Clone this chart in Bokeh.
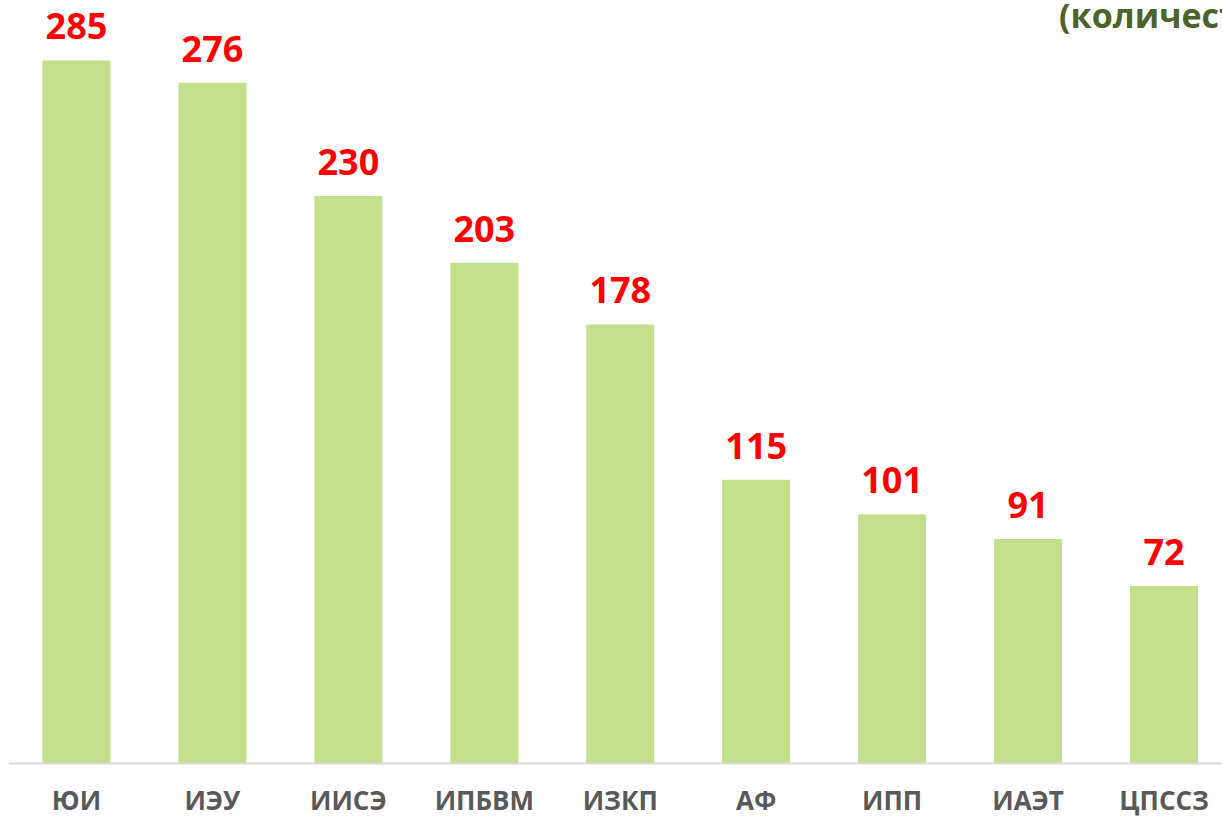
from bokeh.plotting import figure
from bokeh.models import ColumnDataSource, Range1d, FixedTicker, Label
from bokeh.core.properties import value
from bokeh.embed import file_html
from bokeh.resources import INLINE

categories = ["ЮИ", "ИЭУ", "ИИСЭ", "ИПБВМ", "ИЗКП", "АФ", "ИПП", "ИАЭТ", "ЦПССЗ"]
values = [285, 276, 230, 203, 178, 115, 101, 91, 72]
title_text = "(количество человек)"

idx = list(range(len(categories)))
src = ColumnDataSource(dict(x=idx, top=values, lab=[str(v) for v in values]))

p = figure(width=1222, height=819, output_backend="svg", toolbar_location=None,
           x_range=Range1d(-0.5, 8.43), y_range=Range1d(-22.7, 309.3),
           min_border_left=8, min_border_right=0, min_border_top=0, min_border_bottom=0)
p.outline_line_color = None
p.xgrid.grid_line_color = None
p.ygrid.grid_line_color = None
p.yaxis.visible = False

p.vbar(x="x", top="top", width=0.5, bottom=0, source=src, fill_color="#C4DF8B", line_color=None)
p.text(x="x", y="top", text="lab", source=src, text_align="center", text_baseline="alphabetic",
       y_offset=-34, text_color="#FF0000", text_font=value("Open Sans"), text_font_style="bold",
       text_font_size="36px")

ax = p.xaxis[0]
ax.fixed_location = 0
ax.ticker = FixedTicker(ticks=idx)
ax.major_label_overrides = {i: c for i, c in enumerate(categories)}
ax.axis_line_color = "#D9D9D9"
ax.axis_line_width = 2
ax.major_tick_line_color = None
ax.minor_tick_line_color = None
ax.major_tick_out = 0
ax.major_tick_in = 0
ax.major_label_standoff = 18
ax.major_label_text_font = "Open Sans"
ax.major_label_text_font_style = "bold"
ax.major_label_text_font_size = "26px"
ax.major_label_text_color = "#595959"

p.add_layout(Label(x=7.228, y=303.6, text=title_text, text_font="Open Sans", text_font_style="bold",
                   text_font_size="34px", text_color="#4F6228", text_baseline="alphabetic"))

open("out.html", "w").write(file_html(p, INLINE))
